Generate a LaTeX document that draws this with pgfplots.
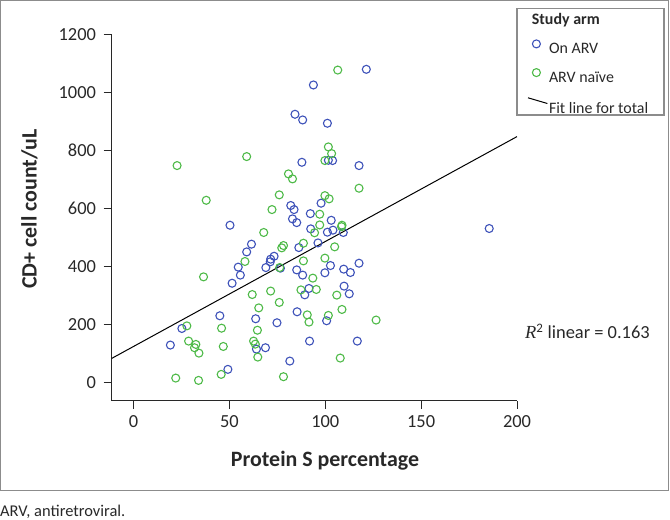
\documentclass[border=0pt]{standalone}
\usepackage{pgfplots}
\pgfplotsset{compat=1.18}
\usepackage{fontspec}
\setmainfont{Carlito}
\newfontfamily\seriffont{Liberation Serif}
\definecolor{arvblue}{RGB}{62,82,185}
\definecolor{arvgreen}{RGB}{78,186,72}
\definecolor{framegray}{RGB}{140,140,140}
\definecolor{axgray}{RGB}{40,40,40}
\pgfplotsset{
  markleg/.style={legend image code/.code={\path[draw=none,fill=none] (0bp,0bp) rectangle (20bp,1bp); \draw[##1] plot coordinates {(8.4bp,5bp)};}},
  lineleg/.style={legend image code/.code={\path[draw=none,fill=none] (0bp,0bp) rectangle (20bp,1bp); \draw[##1] (0bp,11bp) -- (19.4bp,5.3bp);}},
}
\begin{document}
\begin{tikzpicture}[x=1bp,y=1bp]
\path[use as bounding box] (0,0) rectangle (670,520);
\draw[framegray, line width=1.3bp] (0.65,29.3) -- (0.65,519.35) -- (668.6,519.35) -- (668.6,29.3) -- cycle;
\draw[framegray, line width=1.3bp] (517,405) rectangle (664,511.7);
\node[anchor=base west, inner sep=0pt, font=\fontsize{16}{19}\selectfont\bfseries, text=axgray] at (531.7,495) {Study arm};
\node[anchor=base west, inner sep=0pt, font=\fontsize{16.5}{19}\selectfont, text=axgray] at (0,3.4) {ARV, antiretroviral.};
\node[anchor=base west, inner sep=0pt, font=\fontsize{18.5}{22}\selectfont, text=axgray] at (525,181.7) {{\seriffont\itshape R}\textsuperscript{2} linear = 0.163};
\begin{axis}[
  at={(111.7bp,119.3bp)}, anchor=south west,
  scale only axis, width=405.3bp, height=366bp,
  xmin=-11.4, xmax=200, ymin=-62, ymax=1200,
  axis lines=left,
  axis line style={-, axgray, line width=1bp},
  xtick={0,50,...,200}, ytick={0,200,...,1200},
  tick align=outside, major tick length=8bp,
  tick style={axgray, line width=1bp},
  /pgf/number format/assume math mode=true,
  /pgf/number format/1000 sep={},
  ticklabel style={font=\fontsize{18.5}{22}\selectfont, text=axgray, inner sep=0pt},
  xticklabel style={anchor=north, yshift=-7bp},
  yticklabel style={anchor=east, xshift=-7.5bp},
  xlabel={Protein S percentage},
  ylabel={CD+ cell count/uL},
  label style={font=\fontsize{22}{26}\selectfont\bfseries, text=axgray, inner sep=0pt},
  xlabel style={at={(axis description cs:0.5263,-0.1803)}, anchor=base},
  ylabel style={at={(axis description cs:-0.185,0.5238)}, anchor=base},
  clip=false,
  legend style={at={(axis description cs:1.0254,0.9863)}, anchor=north west,
    draw=none, fill=none, inner sep=0pt, row sep=12.2bp, column sep=1bp,
    font=\fontsize{16}{19}\selectfont, text=axgray,
    nodes={inner sep=0pt, text height=12bp, text depth=3bp}},
  legend cell align=left,
]
\addplot[only marks, mark=o, mark size=4bp, arvblue, mark options={line width=1.1bp}, markleg]
  table {
x y
121.4 1080.6
93.8 1026.6
84.2 925.6
88.2 906
101.1 894.6
87.8 760
101.6 767
103.8 766
117.6 748.7
97.8 619
82.0 611
83.7 597
92.2 583
82.9 565
85.1 552
103.1 560
92.4 530.5
101.1 519
104.0 526
109.4 518
50.3 543
61.5 477.7
59.0 451
54.6 398.5
55.7 371
51.4 343
73.3 436
71.5 426
71.3 417
69.0 397
76.6 395
86.2 466
96.2 482
85.1 389
88.2 371
91.5 325
89.3 303
85.3 244.6
102.7 404
99.8 379
109.6 391.6
113.1 380
117.6 412
109.8 333
112.5 306.6
63.7 220.5
74.8 206.7
100.7 213.6
45.0 230.8
25.2 187
19.2 129.8
64.1 116
68.8 120.6
91.8 143.5
116.7 143.5
81.5 74.6
49.2 46
185.5 531.7
};
\addlegendentry{On ARV}
\addplot[only marks, mark=o, mark size=4bp, arvgreen, mark options={line width=1.1bp}, markleg]
  table {
x y
106.5 1078
22.7 748.7
59.0 779.7
80.8 720
82.9 702.8
101.6 813
103.3 790
99.8 766
117.6 670.6
37.9 629
76.0 647.7
72.2 597
99.8 645
102.0 634
97.1 581
97.1 544
94.4 517
67.9 518
108.7 543
108.5 538
78.2 473
77.3 465
88.6 481
104.9 468.5
58.1 418
76.2 397
88.6 420
99.8 429.5
93.5 360.6
36.5 365
61.9 304
71.5 316
87.3 320
95.3 321.5
106.0 302
65.3 258
76.0 276.8
90.6 234
91.5 209
101.6 232
108.7 252.6
126.5 216
27.8 196
45.9 188
64.6 181
28.7 143.5
32.5 132
31.8 120.6
34.1 102
46.8 125
62.6 143.5
63.5 133
64.8 88.4
107.8 85
22.0 16
33.9 8
45.7 28.7
78.2 20.7
};
\addlegendentry{ARV naïve}
\addplot[black, line width=1bp, lineleg]
  coordinates {(-11.4,83.8) (200,848.6)};
\addlegendentry{Fit line for total}
\end{axis}
\end{tikzpicture}
\end{document}
